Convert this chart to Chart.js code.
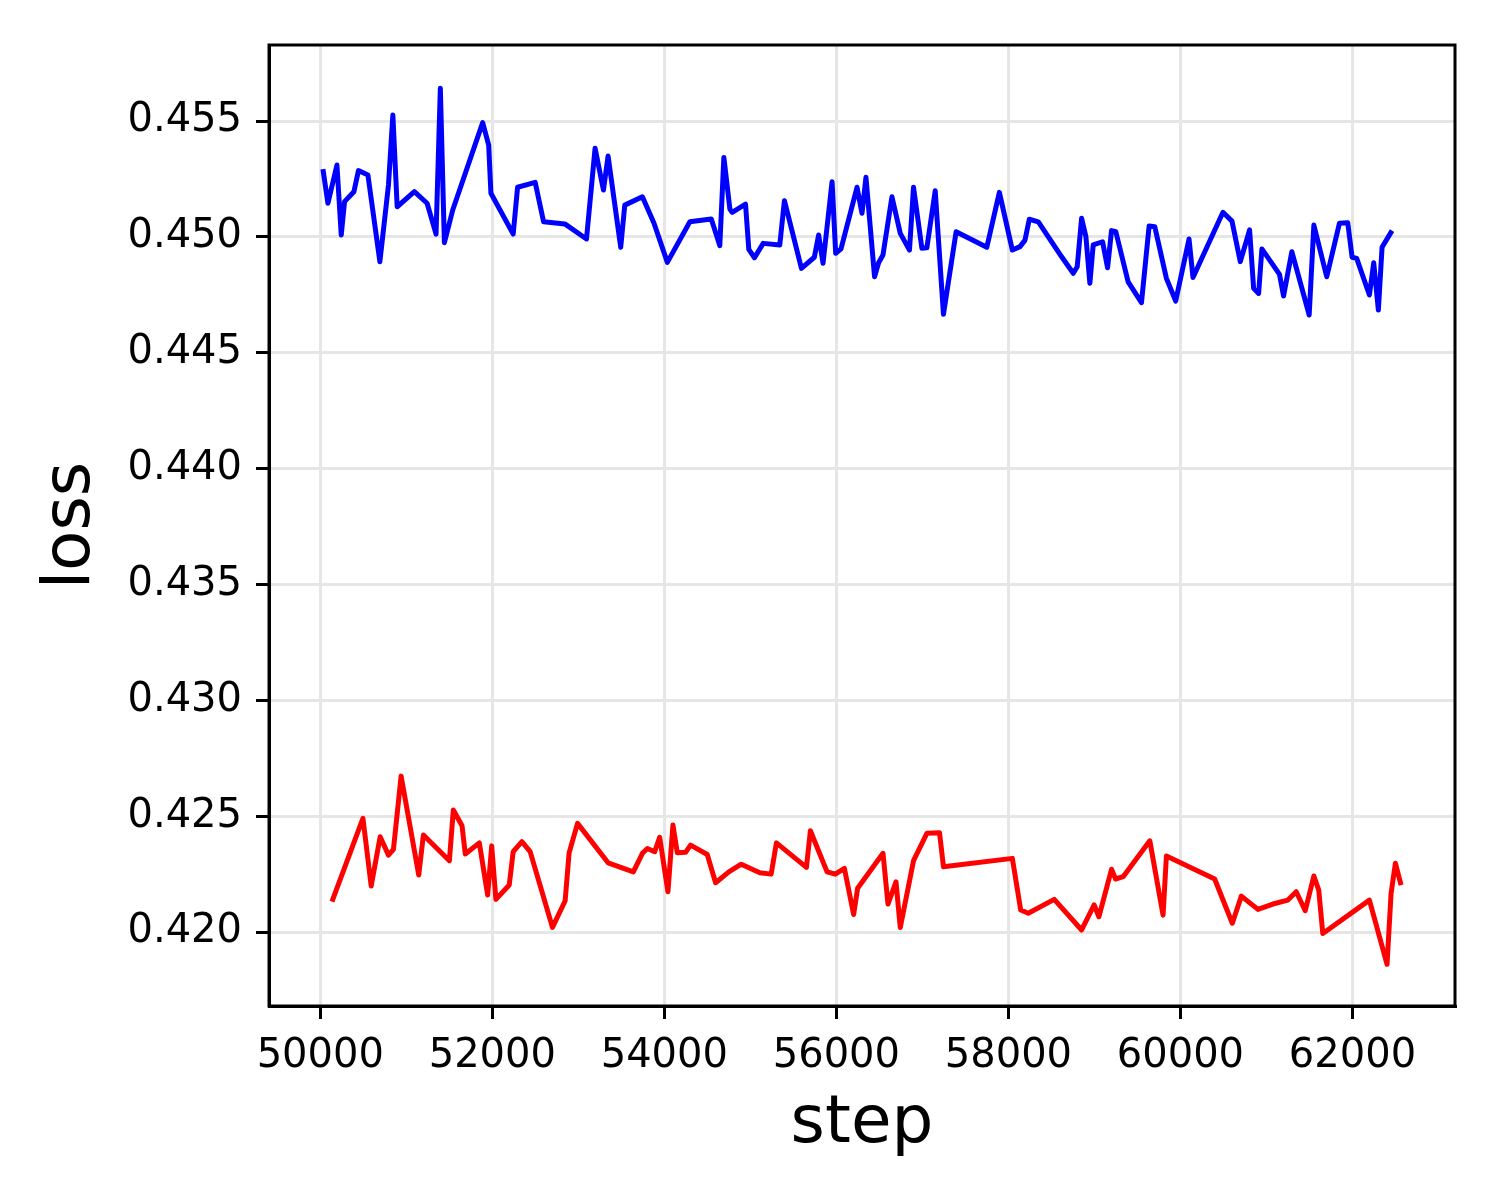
<!DOCTYPE html>
<html>
<head>
<meta charset="utf-8">
<script src="https://cdn.jsdelivr.net/npm/chart.js@4.4.1/dist/chart.umd.min.js"></script>
<style>
  html, body { margin: 0; padding: 0; background: #ffffff; }
  #wrap { width: 1500px; height: 1200px; }
</style>
</head>
<body>
<div id="wrap"><canvas id="c" width="1500" height="1200"></canvas></div>
<script>
const blueSteps = [50031,50089,50194,50244,50282,50391,50444,50554,50693,50793,50844,50894,51094,51242,51346,51396,51443,51540,51888,51958,51984,52243,52294,52499,52596,52843,53095,53195,53292,53346,53493,53540,53745,53880,54035,54297,54546,54645,54692,54762,54789,54944,54982,55048,55149,55342,55396,55594,55744,55794,55845,55950,55992,56054,56240,56298,56344,56444,56491,56542,56646,56743,56850,56897,56994,57052,57149,57245,57392,57749,57895,58046,58135,58193,58243,58348,58619,58754,58800,58851,58901,58947,58986,59095,59153,59199,59249,59392,59547,59636,59702,59837,59945,60100,60146,60494,60599,60696,60804,60851,60909,60947,61152,61199,61295,61497,61551,61701,61849,61945,61996,62049,62197,62247,62301,62344,62460];
const blueLoss = [0.45292,0.45145,0.45310,0.45008,0.45152,0.45195,0.45286,0.45267,0.44893,0.45224,0.45526,0.45130,0.45195,0.45145,0.45012,0.45641,0.44975,0.45116,0.45493,0.45396,0.45188,0.45012,0.45214,0.45235,0.45065,0.45056,0.44991,0.45382,0.45202,0.45349,0.44955,0.45137,0.45173,0.45059,0.44890,0.45065,0.45077,0.44962,0.45343,0.45120,0.45106,0.45141,0.44946,0.44910,0.44972,0.44965,0.45156,0.44864,0.44912,0.45008,0.44886,0.45238,0.44929,0.44948,0.45214,0.45102,0.45257,0.44828,0.44888,0.44922,0.45173,0.45015,0.44943,0.45214,0.44951,0.44953,0.45199,0.44666,0.45022,0.44955,0.45192,0.44943,0.44958,0.44986,0.45076,0.45065,0.44914,0.44843,0.44871,0.45080,0.45001,0.44800,0.44965,0.44979,0.44867,0.45027,0.45022,0.44806,0.44716,0.45047,0.45044,0.44821,0.44723,0.44991,0.44825,0.45106,0.45068,0.44893,0.45030,0.44778,0.44756,0.44948,0.44838,0.44745,0.44936,0.44663,0.45051,0.44828,0.45059,0.45061,0.44912,0.44907,0.44749,0.44888,0.44684,0.44955,0.45027];

const redSteps = [50136,50496,50592,50696,50793,50851,50940,51145,51199,51501,51547,51648,51686,51849,51946,51993,52042,52197,52243,52344,52440,52700,52847,52893,52991,53346,53640,53745,53803,53888,53946,54042,54100,54151,54247,54305,54499,54596,54750,54894,55110,55242,55303,55652,55698,55892,55988,56093,56201,56247,56542,56600,56693,56743,56897,57052,57199,57245,58046,58143,58231,58533,58851,58997,59052,59199,59246,59334,59644,59798,59837,60398,60603,60708,60901,61075,61249,61346,61451,61551,61608,61655,62197,62402,62449,62499,62565];
const redLoss = [0.42131,0.42491,0.42199,0.42411,0.42332,0.42357,0.42673,0.42246,0.42419,0.42308,0.42527,0.42459,0.42337,0.42385,0.42160,0.42372,0.42141,0.42203,0.42347,0.42390,0.42347,0.42020,0.42135,0.42342,0.42469,0.42299,0.42260,0.42340,0.42361,0.42347,0.42409,0.42174,0.42462,0.42342,0.42344,0.42375,0.42335,0.42213,0.42260,0.42293,0.42256,0.42250,0.42385,0.42279,0.42437,0.42260,0.42250,0.42275,0.42076,0.42189,0.42340,0.42121,0.42217,0.42020,0.42308,0.42426,0.42429,0.42282,0.42318,0.42095,0.42081,0.42141,0.42009,0.42117,0.42066,0.42271,0.42229,0.42239,0.42394,0.42073,0.42328,0.42229,0.42038,0.42155,0.42098,0.42121,0.42138,0.42174,0.42092,0.42242,0.42181,0.41994,0.42138,0.41861,0.42167,0.42297,0.42203];

const xTickValues = [50000,52000,54000,56000,58000,60000,62000];
const yTickValues = [0.420,0.425,0.430,0.435,0.440,0.445,0.450,0.455];
const xLabel = 'step';
const yLabel = 'loss';

function toPoints(xs, ys) { return xs.map((x, i) => ({ x: x, y: ys[i] })); }

const framePlugin = {
  id: 'frame',
  beforeDraw(chart) {
    const ctx = chart.ctx;
    ctx.save();
    ctx.fillStyle = '#ffffff';
    ctx.fillRect(0, 0, chart.width, chart.height);
    ctx.restore();
  },
  afterDatasetsDraw(chart) {
    const a = chart.chartArea;
    const ctx = chart.ctx;
    ctx.save();
    ctx.strokeStyle = '#000000';
    ctx.lineWidth = 3;
    ctx.strokeRect(a.left, a.top, a.right - a.left, a.bottom - a.top);
    ctx.restore();
  }
};

const tickFont = { family: 'DejaVu Sans', size: 40 };
const titleFont = { family: 'DejaVu Sans', size: 66 };

new Chart(document.getElementById('c'), {
  type: 'line',
  data: {
    datasets: [
      { data: toPoints(blueSteps, blueLoss), borderColor: '#0000ff', borderWidth: 5, borderJoinStyle: 'round', borderCapStyle: 'butt', pointRadius: 0, tension: 0, fill: false },
      { data: toPoints(redSteps, redLoss), borderColor: '#ff0000', borderWidth: 5, borderJoinStyle: 'round', borderCapStyle: 'butt', pointRadius: 0, tension: 0, fill: false }
    ]
  },
  options: {
    responsive: false,
    devicePixelRatio: 1,
    animation: false,
    layout: { padding: { left: 0, top: 45, right: 45, bottom: 0 } },
    plugins: { legend: { display: false }, tooltip: { enabled: false } },
    scales: {
      x: {
        type: 'linear',
        min: 49404,
        max: 63192,
        afterBuildTicks: (s) => { s.ticks = xTickValues.map(v => ({ value: v })); },
        afterFit: (s) => { s.height = 194; },
        ticks: { font: tickFont, color: '#000000', padding: 14, maxRotation: 0, autoSkip: false, callback: (v) => String(v) },
        grid: { color: '#e6e6e6', lineWidth: 3, drawTicks: true, tickLength: 13, tickColor: '#000000', tickWidth: 3 },
        border: { display: true, color: '#000000', width: 3 },
        title: { display: true, text: xLabel, font: titleFont, color: '#000000', padding: { top: 0, bottom: 36 } }
      },
      y: {
        type: 'linear',
        min: 0.41681,
        max: 0.45828,
        afterBuildTicks: (s) => { s.ticks = yTickValues.map(v => ({ value: v })); },
        afterFit: (s) => { s.width = 269; },
        ticks: { font: tickFont, color: '#000000', padding: 14, autoSkip: false, callback: (v) => Number(v).toFixed(3) },
        grid: { color: '#e6e6e6', lineWidth: 3, drawTicks: true, tickLength: 13, tickColor: '#000000', tickWidth: 3 },
        border: { display: true, color: '#000000', width: 3 },
        title: { display: true, text: yLabel, font: titleFont, color: '#000000', padding: { top: 32, bottom: 0 } }
      }
    }
  },
  plugins: [framePlugin]
});
</script>
</body>
</html>
